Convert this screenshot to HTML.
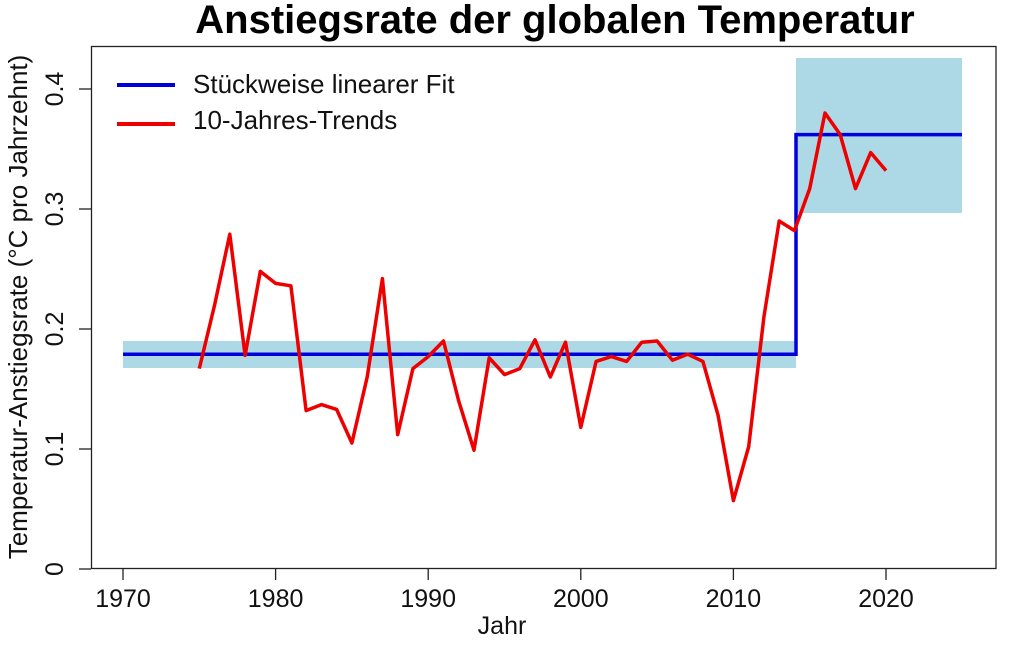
<!DOCTYPE html>
<html><head><meta charset="utf-8"><style>
html,body{margin:0;padding:0;background:#fff;}
svg{display:block;font-family:"Liberation Sans",Arial,sans-serif;}
</style></head><body>
<svg id="s" width="1024" height="647" viewBox="0 0 1024 647" xmlns="http://www.w3.org/2000/svg">
<text x="555" y="33" text-anchor="middle" font-size="40" font-weight="bold">Anstiegsrate der globalen Temperatur</text>
<rect x="123" y="341" width="673" height="27" fill="#add8e6"/>
<rect x="796" y="58" width="166" height="155" fill="#add8e6"/>
<g id="g"></g>
<rect x="91.5" y="46.5" width="904.5" height="522" fill="none" stroke="#222" stroke-width="1.3"/>
<g stroke="#222" stroke-width="1.3">
<line x1="123" y1="569" x2="123" y2="580"/><line x1="275.6" y1="569" x2="275.6" y2="580"/><line x1="428.2" y1="569" x2="428.2" y2="580"/><line x1="580.8" y1="569" x2="580.8" y2="580"/><line x1="733.4" y1="569" x2="733.4" y2="580"/><line x1="886" y1="569" x2="886" y2="580"/>
<line x1="79" y1="569" x2="91" y2="569"/><line x1="79" y1="449" x2="91" y2="449"/><line x1="79" y1="329" x2="91" y2="329"/><line x1="79" y1="209" x2="91" y2="209"/><line x1="79" y1="89" x2="91" y2="89"/>
</g>
<g font-size="25" text-anchor="middle" fill="#111">
<text x="123" y="607">1970</text><text x="275.6" y="607">1980</text><text x="428.2" y="607">1990</text><text x="580.8" y="607">2000</text><text x="733.4" y="607">2010</text><text x="886" y="607">2020</text>
<text x="502" y="634">Jahr</text>
<text transform="translate(63,569) rotate(-90)">0</text>
<text transform="translate(63,449) rotate(-90)">0.1</text>
<text transform="translate(63,329) rotate(-90)">0.2</text>
<text transform="translate(63,209) rotate(-90)">0.3</text>
<text transform="translate(63,89) rotate(-90)">0.4</text>
<text transform="translate(27,307) rotate(-90)" font-size="26">Temperatur-Anstiegsrate (°C pro Jahrzehnt)</text>
</g>
<line x1="117" y1="85" x2="175" y2="85" stroke="#0000dd" stroke-width="4"/>
<line x1="117" y1="124" x2="175" y2="124" stroke="#ee0000" stroke-width="4"/>
<text x="193" y="93" font-size="26" fill="#111">Stückweise linearer Fit</text>
<text x="193" y="129" font-size="26" fill="#111">10-Jahres-Trends</text>
</svg>
<script>
var d=[.167,.22,.279,.178,.248,.238,.236,.132,.137,.133,.105,.16,.242,.112,.167,.177,.19,.14,.099,.176,.162,.167,.191,.16,.189,.118,.173,.177,.173,.189,.19,.174,.179,.173,.128,.057,.102,.21,.29,.282,.317,.38,.362,.317,.347,.332];
function X(y){return 123+(y-1970)*15.26}function Y(v){return 569-v*1200}
var p=d.map(function(v,i){return X(1975+i).toFixed(1)+","+Y(v).toFixed(1)}).join(" ");
var b="123,"+Y(.179)+" 796,"+Y(.179)+" 796,"+Y(.362)+" 962,"+Y(.362);
document.getElementById("g").innerHTML='<polyline points="'+b+'" fill="none" stroke="#0000dd" stroke-width="3.5"/><polyline points="'+p+'" fill="none" stroke="#ee0000" stroke-width="3.5" stroke-linejoin="round"/>';
</script>
</body></html>
